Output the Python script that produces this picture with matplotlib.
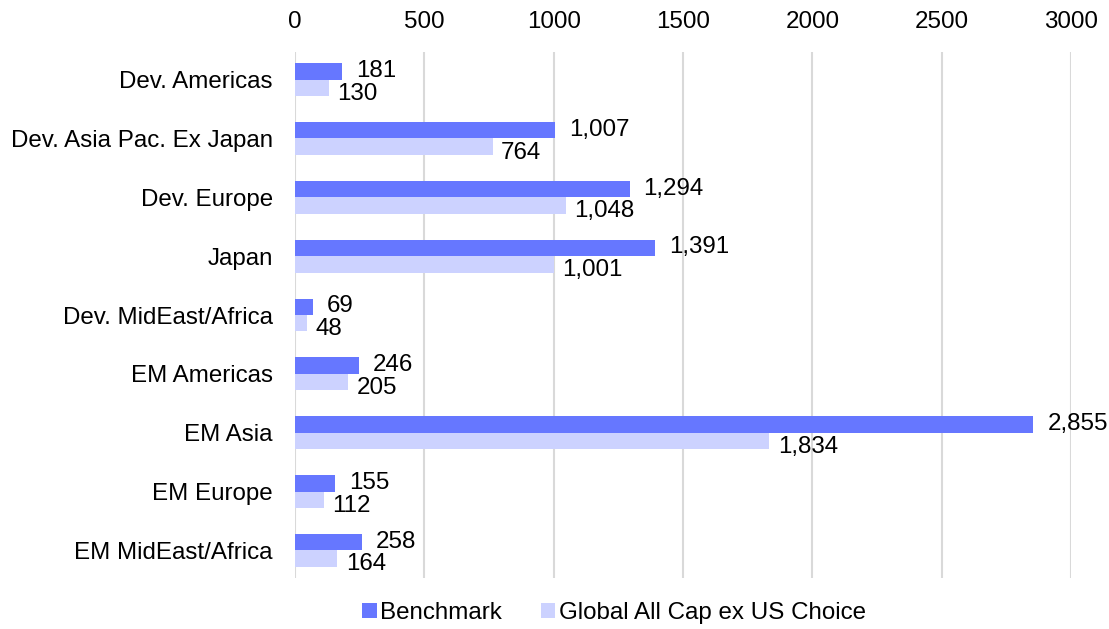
import matplotlib.pyplot as plt
import numpy as np

plt.rcParams['font.family'] = ['Liberation Sans', 'DejaVu Sans']

regions = ['Dev. Americas', 'Dev. Asia Pac. Ex Japan', 'Dev. Europe', 'Japan',
           'Dev. MidEast/Africa', 'EM Americas', 'EM Asia', 'EM Europe', 'EM MidEast/Africa']
benchmark = [181, 1007, 1294, 1391, 69, 246, 2855, 155, 258]
choice = [130, 764, 1048, 1001, 48, 205, 1834, 112, 164]
ticks = [0, 500, 1000, 1500, 2000, 2500, 3000]

c_bench = '#6677FF'
c_choice = '#CCD2FF'
fs = 17.4

fig = plt.figure(figsize=(11.09, 6.29), dpi=100)
ax = fig.add_axes([295 / 1109, 1 - 578 / 629, 776 / 1109, 526 / 629])

y = np.arange(len(regions))
h = 0.28
b1 = ax.barh(y - h / 2, benchmark, height=h, color=c_bench, label='Benchmark')
b2 = ax.barh(y + h / 2, choice, height=h, color=c_choice, label='Global All Cap ex US Choice')

for bar, v in zip(b1, benchmark):
    ax.annotate(f'{v:,}', (bar.get_width(), bar.get_y() + bar.get_height() / 2 - 0.01),
                xytext=(10, 0), textcoords='offset points', va='center', ha='left', fontsize=fs)
for bar, v in zip(b2, choice):
    ax.annotate(f'{v:,}', (bar.get_width(), bar.get_y() + bar.get_height() / 2 + 0.1),
                xytext=(6, 0), textcoords='offset points', va='center', ha='left', fontsize=fs)

ax.set_xlim(0, 3000)
ax.set_ylim(8.47, -0.47)
ax.set_yticks(y)
ax.set_yticklabels(regions, fontsize=fs)
ax.set_xticks(ticks)
ax.set_xticklabels([str(t) for t in ticks], fontsize=fs)
ax.xaxis.tick_top()
ax.tick_params(axis='x', length=0, pad=14)
ax.tick_params(axis='y', length=0, pad=16)
ax.grid(axis='x', color='#D9D9D9', linewidth=1.5)
ax.set_axisbelow(True)
for s in ax.spines.values():
    s.set_visible(False)

fig.legend(handles=[b1, b2], loc='center', bbox_to_anchor=(614 / 1109, 1 - 613 / 629),
           ncol=2, frameon=False, fontsize=fs, handlelength=0.6, handleheight=0.6,
           handletextpad=0.15, columnspacing=1.6)

fig.savefig('out.png', dpi=100)
